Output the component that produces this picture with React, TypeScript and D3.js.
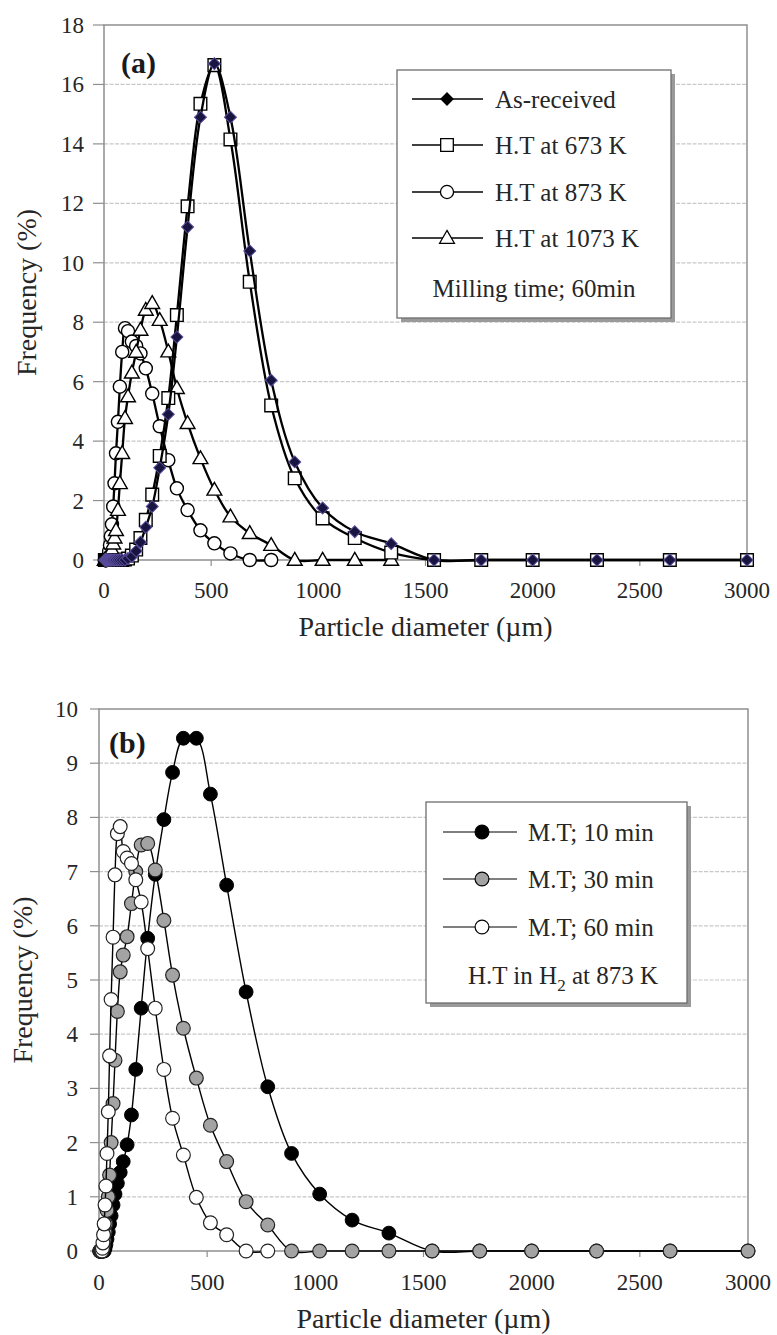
import React from 'react';
import * as d3 from 'd3';

// Particle size bins (µm), shared by all series
const sizes = [4, 5, 6, 7, 8, 9, 10.5, 12, 14, 16, 18, 21, 24, 28, 32, 37, 43, 49, 56, 65, 74, 85, 98, 112, 130, 150, 170, 195, 225, 260, 300, 340, 390, 450, 515, 590, 680, 780, 890, 1020, 1170, 1340, 1540, 1760, 2000, 2300, 2640, 3000];

// Panel (a)
const asReceived = [0, 0, 0, 0, 0, 0, 0, 0, 0, 0, 0, 0, 0, 0, 0, 0, 0, 0, 0, 0, 0, 0, 0,
  0.05, 0.12, 0.3, 0.6, 1.1, 1.8, 3.1, 4.9, 7.5, 11.2, 14.9, 16.7, 14.9, 10.4, 6.05, 3.3, 1.75, 0.95, 0.55, 0, 0, 0, 0, 0, 0];
const ht673 = [0, 0, 0, 0, 0, 0, 0, 0, 0, 0, 0, 0, 0, 0, 0, 0, 0, 0, 0, 0, 0, 0,
  0.02, 0.05, 0.15, 0.35, 0.74, 1.35, 2.2, 3.5, 5.45, 8.24, 11.9, 15.35, 16.65, 14.15, 9.36, 5.2, 2.75, 1.4, 0.74, 0.25, 0, 0, 0, 0, 0, 0];
const ht873 = [0, 0, 0, 0, 0, 0, 0, 0, 0,
  0.03, 0.08, 0.15, 0.3, 0.5, 0.8, 1.2, 1.8, 2.58, 3.59, 4.65, 5.83, 7.0, 7.8, 7.7, 7.35, 7.2, 6.95, 6.45, 5.6, 4.5, 3.36, 2.41, 1.68, 1.0, 0.56, 0.22, 0, 0];
const ht1073 = [0, 0, 0, 0, 0, 0, 0, 0, 0, 0, 0,
  0.02, 0.05, 0.1, 0.2, 0.35, 0.55, 0.75, 1.0, 1.68, 2.58, 3.59, 4.77, 5.5, 6.3, 7.0, 7.74, 8.41, 8.64, 8.07, 7.01, 5.78, 4.6, 3.42, 2.36, 1.46, 0.9, 0.5, 0, 0, 0, 0];

// Panel (b)
const mt10 = [0, 0, 0, 0, 0, 0, 0, 0, 0, 0, 0, 0, 0,
  0.05, 0.12, 0.22, 0.35, 0.5, 0.65, 0.85, 1.05, 1.25, 1.45, 1.65, 1.96, 2.51, 3.35, 4.48, 5.77, 6.95, 7.96, 8.83, 9.46, 9.46, 8.43, 6.75, 4.78, 3.03, 1.8, 1.05, 0.57, 0.33, 0, 0, 0, 0, 0, 0];
const mt30 = [0, 0, 0, 0, 0, 0, 0, 0, 0,
  0.03, 0.06, 0.12, 0.2, 0.35, 0.5, 0.75, 1.0, 1.4, 2.0, 2.72, 3.52, 4.42, 5.15, 5.46, 5.8, 6.41, 7.0, 7.49, 7.52, 7.03, 6.1, 5.09, 4.11, 3.19, 2.32, 1.65, 0.91, 0.48, 0, 0, 0, 0, 0, 0, 0, 0, 0, 0];
const mt60 = [0, 0, 0, 0, 0, 0, 0, 0, 0,
  0.05, 0.15, 0.3, 0.5, 0.85, 1.2, 1.8, 2.57, 3.6, 4.64, 5.79, 6.94, 7.7, 7.83, 7.37, 7.25, 7.15, 6.85, 6.44, 5.58, 4.48, 3.35, 2.45, 1.77, 0.99, 0.52, 0.3, 0, 0];

const xTicks = [0, 500, 1000, 1500, 2000, 2500, 3000];
const yTicksA = [0, 2, 4, 6, 8, 10, 12, 14, 16, 18];
const yTicksB = [0, 1, 2, 3, 4, 5, 6, 7, 8, 9, 10];

const legendA = ['As-received', 'H.T at 673 K', 'H.T at 873 K', 'H.T at 1073 K'];
const legendB = ['M.T; 10 min', 'M.T; 30 min', 'M.T; 60 min'];

const FONT = "'Liberation Serif','Times New Roman',serif";
const TXT = '#262626';

type MType = 'diamond' | 'square' | 'circle' | 'triangle' | 'bigcircle';

const symbolFor = (t: MType) => {
  if (t === 'diamond') return d3.symbol(d3.symbolSquare, 72)();
  if (t === 'square') return d3.symbol(d3.symbolSquare, 160)();
  if (t === 'triangle') return d3.symbol(d3.symbolTriangle, 95)();
  if (t === 'bigcircle') return d3.symbol(d3.symbolCircle, 150)();
  return d3.symbol(d3.symbolCircle, 135)();
};

function Mark({ t, x, y, fill, stroke, sw }: { t: MType; x: number; y: number; fill: string; stroke: string; sw: number }) {
  const rot = t === 'diamond' ? ' rotate(45)' : '';
  const dy = t === 'triangle' ? 1 : 0;
  return <path d={symbolFor(t) as string} transform={`translate(${x},${y + dy})${rot}`} fill={fill} stroke={stroke} strokeWidth={sw} />;
}

interface Series { values: number[]; t: MType; fill: string; stroke: string; sw: number; }

interface PanelProps {
  left: number; right: number; top: number; bottom: number; yMax: number; yTicks: number[];
  series: Series[]; lineW: number; label: string; tickLen: number; labelGap: number;
  xLabelY: number; titleY: number; yTitleX: number; labelX: number; labelY: number;
}

function Panel(p: PanelProps) {
  const x = d3.scaleLinear().domain([0, 3000]).range([p.left, p.right]);
  const y = d3.scaleLinear().domain([0, p.yMax]).range([p.bottom, p.top]);
  const line = d3.line<number>().x((_, i) => x(sizes[i])).y(d => y(d)).curve(d3.curveCatmullRom.alpha(0.5));
  const midY = (p.top + p.bottom) / 2;
  return (
    <g>
      {p.yTicks.filter(v => v > 0 && v < p.yMax).map(v => (
        <line key={'g' + v} x1={p.left} x2={p.right} y1={y(v)} y2={y(v)} stroke="#c8c8c8" strokeWidth={1.2} strokeDasharray="4,1.5" />
      ))}
      <rect x={p.left} y={p.top} width={p.right - p.left} height={p.bottom - p.top} fill="none" stroke="#8f8f8f" strokeWidth={1.5} />
      {p.yTicks.map(v => (
        <line key={'t' + v} x1={p.left - p.tickLen} x2={p.left} y1={y(v)} y2={y(v)} stroke="#8f8f8f" strokeWidth={1.2} />
      ))}
      {xTicks.map(v => (
        <line key={'xt' + v} x1={x(v)} x2={x(v)} y1={p.bottom} y2={p.bottom + 6} stroke="#8f8f8f" strokeWidth={1.2} />
      ))}
      {p.yTicks.map(v => (
        <text key={'yl' + v} x={p.left - p.labelGap} y={y(v)} dy="0.35em" textAnchor="end" fontFamily={FONT} fontSize={23} fill={TXT}>{v}</text>
      ))}
      {xTicks.map(v => (
        <text key={'xl' + v} x={x(v)} y={p.xLabelY} dy="0.35em" textAnchor="middle" fontFamily={FONT} fontSize={23} fill={TXT}>{v}</text>
      ))}
      <text x={(p.left + p.right) / 2} y={p.titleY} dy="0.35em" textAnchor="middle" fontFamily={FONT} fontSize={28} fill={TXT}>Particle diameter (µm)</text>
      <text transform={`translate(${p.yTitleX},${midY}) rotate(-90)`} dy="0.35em" textAnchor="middle" fontFamily={FONT} fontSize={28} fill={TXT}>Frequency (%)</text>
      <text x={p.labelX} y={p.labelY} dy="0.35em" fontFamily={FONT} fontSize={30} fontWeight="bold" fill="#1a1a1a">{p.label}</text>
      {p.series.map((s, si) => (
        <g key={'s' + si}>
          <path d={line(s.values) as string} fill="none" stroke="#000" strokeWidth={p.lineW} />
          {s.values.map((v, i) => (
            <Mark key={i} t={s.t} x={x(sizes[i])} y={y(v)} fill={s.fill} stroke={s.stroke} sw={s.sw} />
          ))}
        </g>
      ))}
    </g>
  );
}

function LegendBox({ x0, y0, w, h, children }: { x0: number; y0: number; w: number; h: number; children: React.ReactNode }) {
  return (
    <g>
      <rect x={x0 + 4} y={y0 + 4} width={w} height={h} fill="#9a9a9a" />
      <rect x={x0} y={y0} width={w} height={h} fill="#fff" stroke="#6e6e6e" strokeWidth={1.3} />
      {children}
    </g>
  );
}

export default function App() {
  const seriesA: Series[] = [
    { values: ht873, t: 'circle', fill: '#fff', stroke: '#000', sw: 1.4 },
    { values: ht1073, t: 'triangle', fill: '#fff', stroke: '#000', sw: 1.4 },
    { values: ht673, t: 'square', fill: '#fff', stroke: '#000', sw: 1.4 },
    { values: asReceived, t: 'diamond', fill: '#17153f', stroke: '#5a4c9c', sw: 1 },
  ];
  const seriesB: Series[] = [
    { values: mt10, t: 'bigcircle', fill: '#000', stroke: '#000', sw: 1 },
    { values: mt30, t: 'bigcircle', fill: '#a3a3a3', stroke: '#222', sw: 1.2 },
    { values: mt60, t: 'bigcircle', fill: '#fff', stroke: '#222', sw: 1.2 },
  ];
  const legATypes: Series[] = [seriesA[3], seriesA[2], seriesA[0], seriesA[1]];
  const rowsA = [99, 145, 192, 238];
  const rowsB = [832, 879, 927];
  return (
    <svg width={777} height={1335} style={{ position: 'absolute', left: 0, top: 0, background: '#fff' }}>
      <rect width={777} height={1335} fill="#fff" />
      <Panel left={104} right={747} top={25} bottom={560} yMax={18} yTicks={yTicksA} series={seriesA} lineW={2.3}
        label="(a)" tickLen={11} labelGap={20} xLabelY={590} titleY={626} yTitleX={26} labelX={121} labelY={62} />
      <Panel left={99} right={748} top={709} bottom={1251} yMax={10} yTicks={yTicksB} series={seriesB} lineW={1.4}
        label="(b)" tickLen={9} labelGap={21} xLabelY={1282} titleY={1318} yTitleX={22} labelX={109} labelY={742} />

      <LegendBox x0={397} y0={70} w={274} h={248}>
        {legendA.map((name, i) => (
          <g key={name}>
            <line x1={412} x2={483} y1={rowsA[i]} y2={rowsA[i]} stroke="#000" strokeWidth={1.4} />
            <Mark t={legATypes[i].t} x={447} y={rowsA[i]} fill={i === 0 ? '#000' : '#fff'} stroke="#000" sw={1.3} />
            <text x={495} y={rowsA[i]} dy="0.35em" fontFamily={FONT} fontSize={25} fill={TXT}>{name}</text>
          </g>
        ))}
        <text x={534} y={288} dy="0.35em" textAnchor="middle" fontFamily={FONT} fontSize={25} fill={TXT}>Milling time; 60min</text>
      </LegendBox>

      <LegendBox x0={426} y0={802} w={261} h={201}>
        {legendB.map((name, i) => (
          <g key={name}>
            <line x1={443} x2={517} y1={rowsB[i]} y2={rowsB[i]} stroke="#000" strokeWidth={1.2} />
            <Mark t="bigcircle" x={482} y={rowsB[i]} fill={seriesB[i].fill} stroke="#000" sw={1.2} />
            <text x={528} y={rowsB[i]} dy="0.35em" fontFamily={FONT} fontSize={25} fill={TXT}>{name}</text>
          </g>
        ))}
        <text x={563} y={975} dy="0.35em" textAnchor="middle" fontFamily={FONT} fontSize={25} fill={TXT}>
          <tspan>H.T in H</tspan><tspan fontSize={17} dy={7}>2</tspan><tspan dy={-7}> at 873 K</tspan>
        </text>
      </LegendBox>
    </svg>
  );
}
